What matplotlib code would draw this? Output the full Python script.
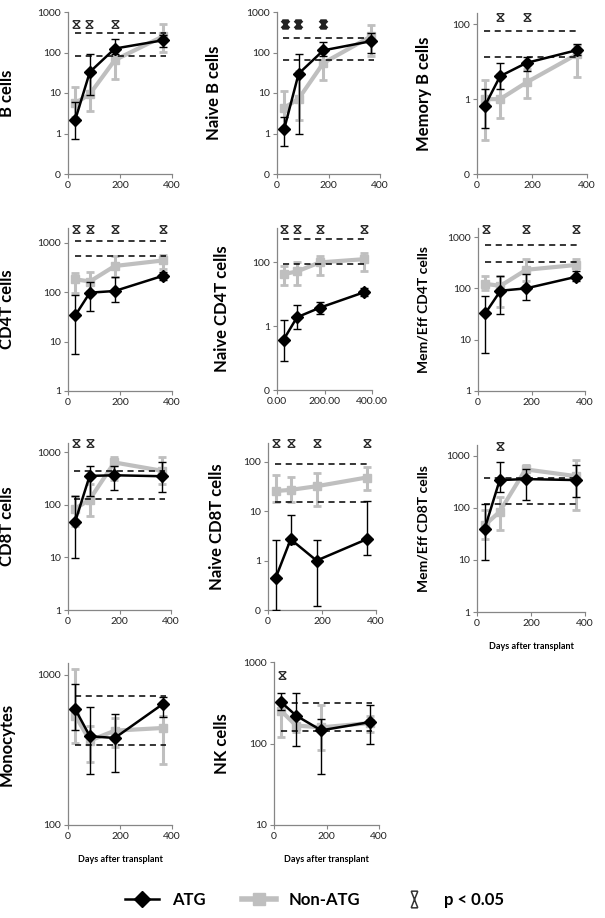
import matplotlib
matplotlib.use('Agg')
from matplotlib import pyplot as plt
from matplotlib.path import Path
from matplotlib.lines import Line2D
import numpy as np

plt.rcParams['font.family'] = ['Lato', 'DejaVu Sans']

days = [28, 84, 180, 365]
ref_days = [25, 375]

# B cells
b_atg = [2.2, 33, 125, 200]
b_atg_lo = [0.75, 9, 90, 140]
b_atg_hi = [6, 94, 210, 270]
b_non = [5.6, 9.4, 65, 250]
b_non_lo = [2.6, 3.5, 22, 105]
b_non_hi = [14, 34, 130, 500]
b_ref = [83, 295]
b_sig = [30, 80, 180]

# Naive B cells
nb_atg = [1.3, 30, 113, 190]
nb_atg_lo = [0.48, 0.95, 80, 100]
nb_atg_hi = [2.6, 92, 177, 300]
nb_non = [4.3, 7.2, 55, 250]
nb_non_lo = [1.2, 2.2, 21, 80]
nb_non_hi = [11, 34, 117, 490]
nb_ref = [66, 230]
nb_sig = [30, 80, 180]

# Memory B cells
mb_atg = [0.65, 4.1, 9.3, 20.5]
mb_atg_lo = [0.17, 1.9, 5.8, 15]
mb_atg_hi = [1.9, 9.3, 13, 30]
mb_non = [1.0, 1.0, 2.8, 16]
mb_non_lo = [0.08, 0.32, 1.1, 3.9]
mb_non_hi = [3.3, 4.7, 6.5, 28]
mb_ref = [13, 66]
mb_sig = [84, 180]

# CD4T cells
cd4_atg = [34, 98, 106, 215]
cd4_atg_lo = [5.6, 41, 62, 180]
cd4_atg_hi = [89, 160, 200, 260]
cd4_non = [183, 165, 340, 440]
cd4_non_lo = [98, 106, 200, 300]
cd4_non_hi = [250, 260, 540, 560]
cd4_ref = [540, 1080]
cd4_sig = [30, 84, 180, 365]

# Naive CD4T cells
ncd4_atg = [0.38, 1.9, 3.8, 11.5]
ncd4_atg_lo = [0.082, 0.83, 2.5, 9.1]
ncd4_atg_hi = [1.6, 4.7, 5.9, 15.5]
ncd4_non = [43, 52, 100, 126]
ncd4_non_lo = [19.5, 19, 40, 55]
ncd4_non_hi = [78, 100, 160, 195]
ncd4_ref = [89, 560]
ncd4_sig = [30, 84, 180, 365]

# Mem/Eff CD4T cells
me4_atg = [33, 90, 100, 167]
me4_atg_lo = [5.5, 32, 60, 140]
me4_atg_hi = [72, 175, 190, 220]
me4_non = [122, 112, 230, 285]
me4_non_lo = [94, 43, 140, 175]
me4_non_hi = [175, 175, 380, 380]
me4_ref = [330, 710]
me4_sig = [30, 180, 365]

# CD8T cells
cd8_atg = [48, 355, 365, 350]
cd8_atg_lo = [9.8, 150, 190, 175]
cd8_atg_hi = [150, 550, 550, 660]
cd8_non = [84, 126, 640, 445]
cd8_non_lo = [40, 62, 300, 250]
cd8_non_hi = [150, 250, 830, 830]
cd8_ref = [130, 445]
cd8_sig = [30, 84]

# Naive CD8T cells
ncd8_atg = [0.44, 2.7, 1.0, 2.7]
ncd8_atg_lo = [0.1, 2.2, 0.12, 1.3]
ncd8_atg_hi = [2.6, 8.4, 2.6, 16]
ncd8_non = [25.6, 27, 32, 48]
ncd8_non_lo = [15.5, 15.5, 13, 27]
ncd8_non_hi = [55, 50, 58, 80]
ncd8_ref = [15.5, 89]
ncd8_sig = [30, 84, 180, 365]

# Mem/Eff CD8T cells
me8_atg = [39, 340, 355, 340]
me8_atg_lo = [9.8, 200, 140, 160]
me8_atg_hi = [120, 750, 550, 660]
me8_non = [46, 84, 545, 405]
me8_non_lo = [25, 37, 400, 90]
me8_non_hi = [90, 162, 660, 830]
me8_ref = [118, 365]
me8_sig = [84]

# Monocytes
mono_atg = [590, 390, 380, 640]
mono_atg_lo = [430, 218, 225, 525]
mono_atg_hi = [870, 615, 550, 710]
mono_non = [535, 365, 425, 443]
mono_non_lo = [350, 263, 330, 256]
mono_non_hi = [1100, 460, 520, 530]
mono_ref = [340, 720]
mono_sig = []

# NK cells
nk_atg = [320, 220, 145, 183]
nk_atg_lo = [260, 92, 42, 98]
nk_atg_hi = [415, 415, 200, 300]
nk_non = [250, 166, 158, 178]
nk_non_lo = [120, 140, 84, 140]
nk_non_hi = [330, 200, 300, 220]
nk_ref = [143, 315]
nk_sig = [30]

ticks_4dec = [0.1, 1, 10, 100, 1000]
labels_4dec = ['0', '1', '10', '100', '1000']
ticks_100 = [0.01, 1, 100]
labels_100 = ['0', '1', '100']
ticks_3dec = [1, 10, 100, 1000]
labels_3dec = ['1', '10', '100', '1000']

W, H = 605, 918
GRAY = '#BFBFBF'
AX = '#868686'

star = Path([(-1, -1), (1, 1), (-1, 1), (1, -1), (-0.8, 1), (0.8, 1), (-0.8, -1), (0.8, -1)],
            [Path.MOVETO, Path.LINETO, Path.MOVETO, Path.LINETO,
             Path.MOVETO, Path.LINETO, Path.MOVETO, Path.LINETO])
star_leg = Path([(-0.4, -1), (0.4, 1), (-0.4, 1), (0.4, -1), (-0.4, 1), (0.4, 1), (-0.4, -1), (0.4, -1)],
                [Path.MOVETO, Path.LINETO, Path.MOVETO, Path.LINETO,
                 Path.MOVETO, Path.LINETO, Path.MOVETO, Path.LINETO])

panels = [
    # label, atg, lo, hi, non, lo, hi, ref, sig, sig_y, ylim, ticks, labels, box(l,r,t,b), label_x, label_fs
    ('B cells', b_atg, b_atg_lo, b_atg_hi, b_non, b_non_lo, b_non_hi, b_ref, b_sig, 516,
     (0.1, 1000), ticks_4dec, labels_4dec, (68, 172, 12, 174), 15, 12),
    ('Naive B cells', nb_atg, nb_atg_lo, nb_atg_hi, nb_non, nb_non_lo, nb_non_hi, nb_ref, nb_sig, 510,
     (0.1, 1000), ticks_4dec, labels_4dec, (277, 380, 12, 174), 222, 12),
    ('Memory B cells', mb_atg, mb_atg_lo, mb_atg_hi, mb_non, mb_non_lo, mb_non_hi, mb_ref, mb_sig, 155,
     (0.01, 200), ticks_100, labels_100, (477, 587, 13, 174), 432, 12),
    ('CD4T cells', cd4_atg, cd4_atg_lo, cd4_atg_hi, cd4_non, cd4_non_lo, cd4_non_hi, cd4_ref, cd4_sig, 1900,
     (1, 2000), ticks_3dec, labels_3dec, (68, 172, 228, 391), 15, 12),
    ('Naive CD4T cells', ncd4_atg, ncd4_atg_lo, ncd4_atg_hi, ncd4_non, ncd4_non_lo, ncd4_non_hi, ncd4_ref, ncd4_sig, 1150,
     (0.01, 1200), ticks_100, labels_100, (277, 372, 228, 390), 230, 12),
    ('Mem/Eff CD4T cells', me4_atg, me4_atg_lo, me4_atg_hi, me4_non, me4_non_lo, me4_non_hi, me4_ref, me4_sig, 1450,
     (1, 1500), ticks_3dec, labels_3dec, (478, 585, 228, 391), 429, 10),
    ('CD8T cells', cd8_atg, cd8_atg_lo, cd8_atg_hi, cd8_non, cd8_non_lo, cd8_non_hi, cd8_ref, cd8_sig, 1490,
     (1, 1500), ticks_3dec, labels_3dec, (68, 171, 443, 610), 15, 12),
    ('Naive CD8T cells', ncd8_atg, ncd8_atg_lo, ncd8_atg_hi, ncd8_non, ncd8_non_lo, ncd8_non_hi, ncd8_ref, ncd8_sig, 235,
     (0.1, 240), [0.1, 1, 10, 100], ['0', '1', '10', '100'], (268, 376, 443, 610), 225, 12),
    ('Mem/Eff CD8T cells', me8_atg, me8_atg_lo, me8_atg_hi, me8_non, me8_non_lo, me8_non_hi, me8_ref, me8_sig, 1500,
     (1, 1600), ticks_3dec, labels_3dec, (477, 585, 445, 612), 430, 10),
    ('Monocytes', mono_atg, mono_atg_lo, mono_atg_hi, mono_non, mono_non_lo, mono_non_hi, mono_ref, mono_sig, 0,
     (100, 1200), [100, 1000], ['100', '1000'], (68, 172, 663, 825), 15, 12),
    ('NK cells', nk_atg, nk_atg_lo, nk_atg_hi, nk_non, nk_non_lo, nk_non_hi, nk_ref, nk_sig, 700,
     (10, 1000), [10, 100, 1000], ['10', '100', '1000'], (274, 379, 662, 825), 230, 12),
]
xlabel_panels = ['Mem/Eff CD8T cells', 'Monocytes', 'NK cells']

fig = plt.figure(figsize=(W / 100, H / 100), dpi=100)

for (label, atg, alo, ahi, non, nlo, nhi, ref, sig, sig_y, ylim, yt, ytl,
     box, lab_x, lab_fs) in panels:
    l, r, t, b = box
    ax = fig.add_axes([l / W, 1 - b / H, (r - l) / W, (b - t) / H])
    ax.set_yscale('log')

    atg = np.array(atg); non = np.array(non)
    ax.errorbar(days, non, yerr=[non - np.array(nlo), np.array(nhi) - non],
                color=GRAY, lw=3, marker='s', ms=6, ecolor=GRAY, elinewidth=2.2,
                capsize=3, capthick=2, zorder=2)
    for v in ref:
        ax.plot(ref_days, [v, v], color='black', ls=(0, (4, 3)), lw=1.1, zorder=2.5)
    ax.errorbar(days, atg, yerr=[atg - np.array(alo), np.array(ahi) - atg],
                color='black', lw=1.8, marker='D', ms=6.5, ecolor='black', elinewidth=1,
                capsize=3, capthick=1, zorder=3)
    if sig:
        # the naive B cell stars are printed heavier in the figure
        mw = 2.0 if label == 'Naive B cells' else 0.9
        ax.plot(sig, [sig_y] * len(sig), ls='none', marker=star, ms=5.5,
                mec='#222222', mew=mw, zorder=4, clip_on=False)

    ax.set_xlim(0, 400)
    ax.set_ylim(*ylim)
    ax.set_xticks([0, 200, 400])
    if label == 'Naive CD4T cells':
        ax.set_xticklabels(['0.00', '200.00', '400.00'])
    ax.set_yticks(yt)
    ax.set_yticklabels(ytl)
    ax.minorticks_off()
    for s in ['top', 'right']:
        ax.spines[s].set_visible(False)
    for s in ['left', 'bottom']:
        ax.spines[s].set_color(AX)
        ax.spines[s].set_linewidth(0.9)
    ax.tick_params(direction='out', length=3, width=0.8, color=AX,
                   labelsize=7.5, labelcolor='#222222', pad=2)
    ax.set_ylabel(label, fontsize=lab_fs, fontweight='bold')
    ax.yaxis.set_label_coords((lab_x - l) / (r - l), 0.5)
    if label in xlabel_panels:
        ax.set_xlabel('Days after transplant', fontsize=6.5, fontweight='bold', labelpad=10)

handles = [
    Line2D([], [], color='black', lw=1.8, marker='D', ms=8),
    Line2D([], [], color=GRAY, lw=4, marker='s', ms=8),
    Line2D([], [], ls='none', marker=star_leg, ms=12, mec='#333333', mew=1.1),
]
fig.legend(handles, ['ATG', 'Non-ATG', 'p < 0.05'], loc='center',
           bbox_to_anchor=(0.52, 1 - 900 / H), ncol=3, frameon=False,
           prop={'size': 12, 'weight': 'bold'}, handlelength=2.0,
           columnspacing=2.2, handletextpad=0.8)

fig.savefig('out.png', dpi=100)
